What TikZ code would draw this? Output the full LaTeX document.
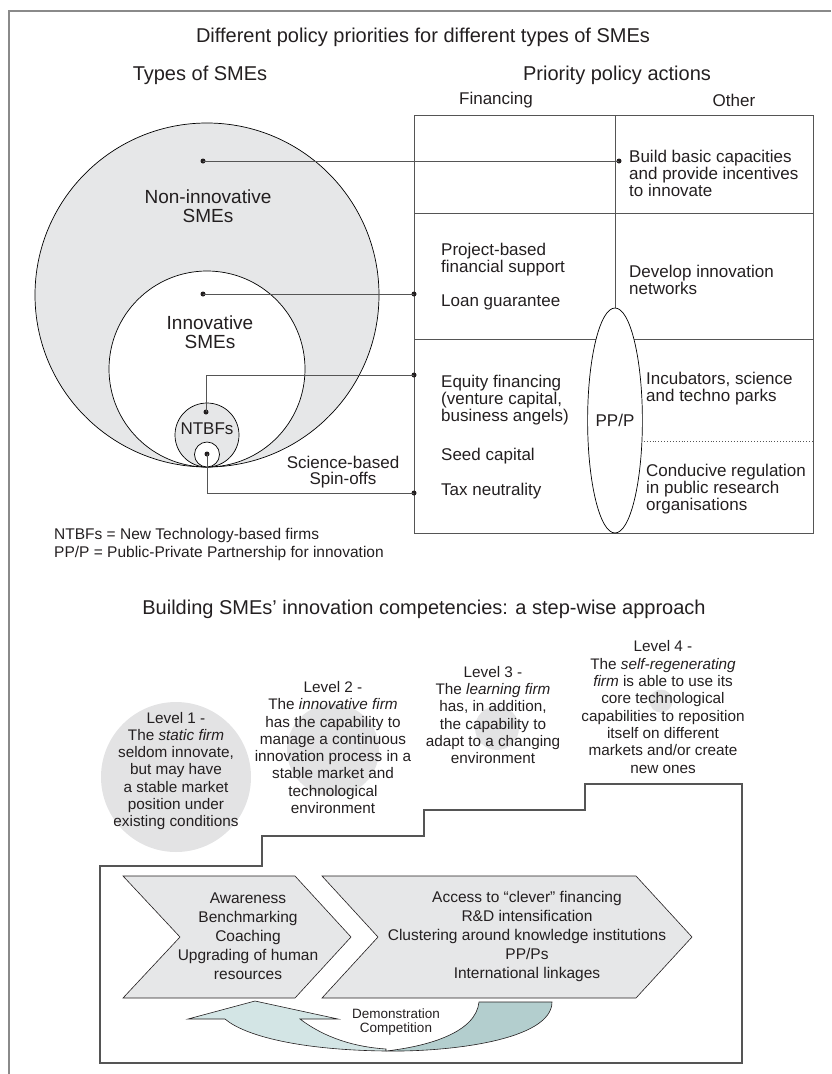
\documentclass[tikz,border=0pt]{standalone}
\usepackage{fontspec}
\setmainfont{Liberation Sans}
\usetikzlibrary{shapes.geometric}
\definecolor{ink}{HTML}{231F20}
\definecolor{shade}{HTML}{E6E7E8}
\definecolor{levelshade}{HTML}{E3E3E4}
\definecolor{rulegray}{HTML}{555555}
\definecolor{framegray}{HTML}{8A8A8A}
\definecolor{tealLight}{HTML}{D3E5E5}
\definecolor{tealDark}{HTML}{B3CECE}
\newcommand{\fsz}[2]{\fontsize{#1}{#2}\selectfont}

\begin{document}
\begin{tikzpicture}[x=1pt,y=-1pt,
  head/.style={inner sep=0pt, text=ink, font=\fsz{20}{22}},
  colhead/.style={inner sep=0pt, text=ink, font=\fsz{17}{19}},
  cell/.style={inner sep=0pt, text=ink, align=left, font=\fsz{17}{17}},
  ring/.style={circle, draw=black, line width=0.7pt, inner sep=0pt},
  ringlabel/.style={inner sep=0pt, text=ink, align=center, font=\fsz{19}{19}},
  grid/.style={draw=rulegray, line width=1pt},
  conn/.style={draw=rulegray, line width=1pt},
  dotmark/.style={circle, fill=ink, inner sep=0pt, minimum size=5pt},
  levelbox/.style={inner sep=0pt, text=ink, align=center, font=\fsz{15.3}{17.3}},
  levelball/.style={circle, fill=levelshade, inner sep=0pt},
  chevron/.style={draw=ink, line width=0.6pt, fill=shade},
  chevtext/.style={inner sep=0pt, text=ink, align=center, font=\fsz{15.5}{19}},
  legend/.style={inner sep=0pt, text=ink, align=left, font=\fsz{15.5}{18}}
]
\useasboundingbox (0,0) rectangle (831,1074);

% outer frame (left and top rules)
\draw[framegray, line width=1.5pt] (9,1074) -- (9,11) -- (831,11);

% headings
\node[head] (title) at (423,37) {Different policy priorities for different types of SMEs};
\node[head] (typesHead) at (200,75) {Types of SMEs};
\node[head] (prioHead) at (617,75) {Priority policy actions};
\node[colhead] (finHead) at (496,100) {Financing};
\node[colhead] (othHead) at (734,100) {Other};

% nested circles of SME types
\node[ring, fill=shade, minimum size=344pt] (nonInn) at (207,295) {};
\node[ring, fill=white, minimum size=196pt] (inn) at (207,369) {};
\node[ring, fill=shade, minimum size=64pt] (ntbf) at (207,435) {};
\node[ring, fill=white, minimum size=25pt] (spin) at (207,454.5) {};

\node[ringlabel] (nonInnLbl) at (208,206.5) {Non-innovative\\SMEs};
\node[ringlabel] (innLbl) at (210,332) {Innovative\\SMEs};
\node[inner sep=0pt, text=ink, font=\fsz{17}{17}] (ntbfLbl) at (207,429) {NTBFs};
\node[inner sep=0pt, text=ink, align=center, font=\fsz{17}{16.5}] (spinLbl) at (343,472) {Science-based\\Spin-offs};

% policy table
\draw[grid] (414,115) rectangle (813,533);
\draw[grid] (414,213) -- (813,213);
\draw[grid] (414,339) -- (813,339);
\draw[grid] (615,115) -- (615,310);
\draw[rulegray, line width=0.9pt, dotted] (638,441) -- (813,441);
\node[ellipse, draw=black, line width=0.7pt, fill=white, minimum width=50pt, minimum height=225pt, inner sep=0pt, text=ink, font=\fsz{17}{17}] (ppp) at (615,420.5) {PP/P};

% table contents
\node[cell, anchor=west] (capac) at (629,173) {Build basic capacities\\and provide incentives\\to innovate};
\node[cell, anchor=west] (projfin) at (441,259.5) {Project-based\\financial support};
\node[cell, anchor=west] (loan) at (441,302) {Loan guarantee};
\node[cell, anchor=west] (netw) at (629,279.5) {Develop innovation\\networks};
\node[cell, anchor=west] (equity) at (441,400) {Equity financing\\(venture capital,\\business angels)};
\node[cell, anchor=west] (seed) at (441,456) {Seed capital};
\node[cell, anchor=west] (tax) at (441,491) {Tax neutrality};
\node[cell, anchor=west] (incub) at (646,388.5) {Incubators, science\\and techno parks};
\node[cell, anchor=west] (regul) at (646,489) {Conducive regulation\\in public research\\organisations};

% links from firm types to policy rows
\node[dotmark] (dNon) at (203,161) {};
\node[dotmark] (tNon) at (619,161) {};
\node[dotmark] (dInn) at (203,294) {};
\node[dotmark] (tInn) at (414,294) {};
\node[dotmark] (dNtbf) at (206,412) {};
\node[dotmark] (tNtbf) at (414,375) {};
\node[dotmark] (dSpin) at (207,454) {};
\node[dotmark] (tSpin) at (414,493) {};
\draw[conn] (dNon.center) -- (tNon.center);
\draw[conn] (dInn.center) -- (tInn.center);
\draw[conn] (dNtbf.center) |- (tNtbf.center);
\draw[conn] (dSpin.center) |- (tSpin.center);

% legend
\node[legend, anchor=west] (legend) at (54,544) {NTBFs = New Technology-based firms\\PP/P = Public-Private Partnership for innovation};

% second part: step-wise approach
\node[head] (stepHead) at (424,609) {Building SMEs’ innovation competencies: a step-wise approach};

\node[levelball, minimum size=150pt] (ball1) at (176,777) {};
\node[levelball, minimum size=92pt] (ball2) at (333,750) {};
\node[levelball, minimum size=44pt] (ball3) at (497,728) {};
\node[levelball, minimum size=23pt] (ball4) at (661,701) {};

\node[levelbox] (lev1) at (176,771) {Level 1 -\\The \textit{static firm}\\seldom innovate,\\but may have\\a stable market\\position under\\existing conditions};
\node[levelbox] (lev2) at (333,747.5) {Level 2 -\\The \textit{innovative firm}\\has the capability to\\manage a continuous\\innovation process in a\\stable market and\\technological\\environment};
\node[levelbox] (lev3) at (493,715) {Level 3 -\\The \textit{learning firm}\\has, in addition,\\the capability to\\adapt to a changing\\environment};
\node[levelbox] (lev4) at (663,707) {Level 4 -\\The \textit{self-regenerating}\\\textit{firm} is able to use its\\core technological\\capabilities to reposition\\itself on different\\markets and/or create\\new ones};

% staircase outline
\draw[rulegray, line width=1.1pt] (100,1063) -- (100,866) -- (262,866) -- (262,836) -- (424,836)
  -- (424,810) -- (585,810) -- (585,784) -- (742,784) -- (742,1063) -- cycle;

% chevrons
\draw[chevron] (123,876) -- (295,876) -- (351,937) -- (295,998) -- (123,998) -- (180,937) -- cycle;
\draw[chevron] (322,876) -- (636,876) -- (692,937) -- (636,998) -- (322,998) -- (378,937) -- cycle;
\node[chevtext] (chev1txt) at (248,936) {Awareness\\Benchmarking\\Coaching\\Upgrading of human\\resources};
\node[chevtext] (chev2txt) at (527,936) {Access to “clever” financing\\R\&D intensification\\Clustering around knowledge institutions\\PP/Ps\\International linkages};

% feedback arrow below the chevrons
\draw[ink, line width=0.6pt, fill=tealDark]
  (479,1002) -- (552,1002) .. controls (552,1040) and (450,1052) .. (386,1051)
  .. controls (430,1046) and (476,1032) .. (479,1002) -- cycle;
\draw[ink, line width=0.6pt, fill=tealLight]
  (386,1051) .. controls (300,1050) and (245,1036) .. (225,1019)
  -- (188,1019) -- (255,1001) -- (338,1019) -- (300,1019)
  .. controls (325,1038) and (355,1047) .. (386,1049) -- cycle;
\node[inner sep=0pt, text=ink, align=center, font=\fsz{13.5}{14}] (demo) at (396,1022) {Demonstration\\Competition};

\end{tikzpicture}
\end{document}
